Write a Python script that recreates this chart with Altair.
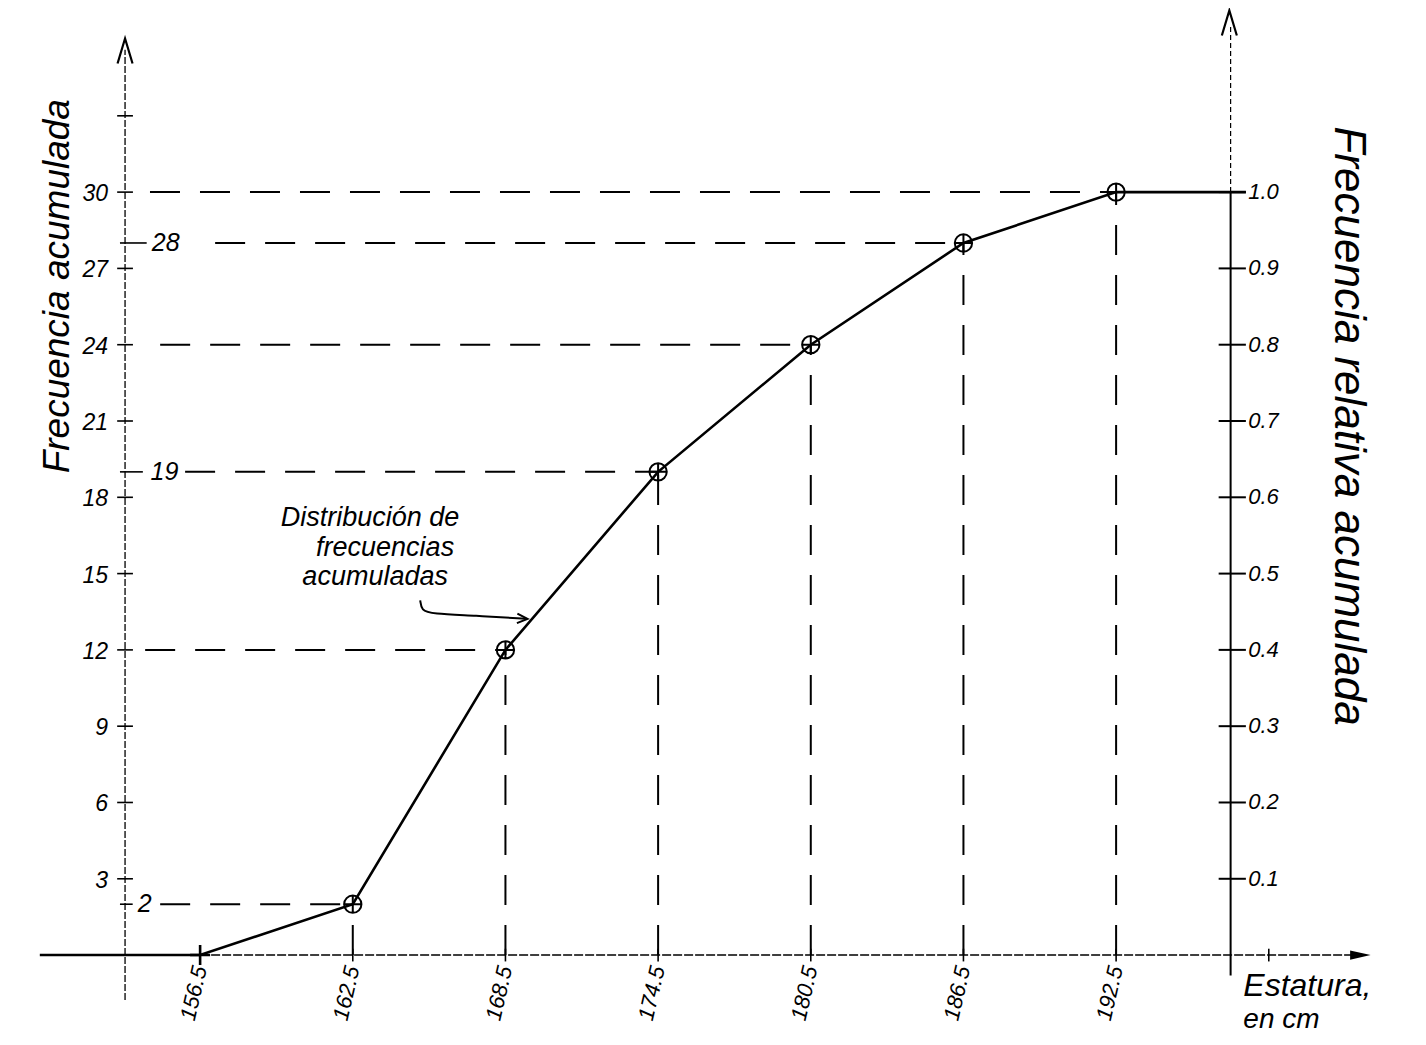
import altair as alt
import pandas as pd

# ---------------- data ----------------
heights = [156.5, 162.5, 168.5, 174.5, 180.5, 186.5, 192.5]
cum_freq = [0, 2, 12, 19, 24, 28, 30]
left_tick_values = [3, 6, 9, 12, 15, 18, 21, 24, 27, 30, 33]
left_tick_labels = ["3", "6", "9", "12", "15", "18", "21", "24", "27", "30", ""]
right_tick_values = [3, 6, 9, 12, 15, 18, 21, 24, 27, 30]
right_tick_labels = ["0.1", "0.2", "0.3", "0.4", "0.5", "0.6", "0.7", "0.8", "0.9", "1.0"]
side_labels = ["2", "19", "28"]
side_values = [2, 19, 28]
x_labels = ["156.5", "162.5", "168.5", "174.5", "180.5", "186.5", "192.5"]
ogive_left, ogive_right = 150.2, 197.6

# ---------------- layout (data units) ----------------
LEFT_AX, RIGHT_AX = 153.55, 197.0
FONT = "Liberation Sans"

X = alt.X("x:Q", scale=alt.Scale(domain=[149.5, 203.5], nice=False, zero=False), axis=None)
Y = alt.Y("y:Q", scale=alt.Scale(domain=[-3.3, 37.2], nice=False, zero=False), axis=None)


def rules(df, **kw):
    return alt.Chart(df).mark_rule(color="black", **kw).encode(
        x=X, x2=alt.X2("x2:Q"), y=Y, y2=alt.Y2("y2:Q"))


def texts(df, **kw):
    base = dict(font=FONT, fontStyle="italic", color="black")
    base.update(kw)
    return alt.Chart(df).mark_text(**base).encode(x=X, y=Y, text="t:N")


def shapes(df, **kw):
    return alt.Chart(df).mark_point(opacity=1, color="black", **kw).encode(x=X, y=Y)


# ogive line
ogive_df = pd.DataFrame({
    "x": [ogive_left] + heights + [ogive_right],
    "y": [0] + cum_freq + [cum_freq[-1]],
    "o": list(range(len(heights) + 2)),
})
ogive = alt.Chart(ogive_df).mark_line(color="black", strokeWidth=2.6).encode(
    x=X, y=Y, order="o:Q")

# dashed guides
h_start = {2: 154.93, 12: 154.34, 19: 155.91, 24: 154.93, 28: 157.09, 30: 154.53}
hg = pd.DataFrame({
    "x": [h_start[v] for v in cum_freq[1:]],
    "x2": heights[1:],
    "y": cum_freq[1:],
    "y2": cum_freq[1:],
})
vg = pd.DataFrame({"x": heights[1:], "x2": heights[1:], "y": [0] * 6, "y2": cum_freq[1:]})
guides_h = rules(hg, strokeWidth=2, strokeDash=[30, 20])
guides_v = rules(vg, strokeWidth=2, strokeDash=[30, 20])

# axes
left_axis = rules(pd.DataFrame({"x": [LEFT_AX], "x2": [LEFT_AX], "y": [-1.77], "y2": [35.6]}),
                  strokeWidth=1.3, strokeDash=[7, 2])
right_axis_solid = rules(pd.DataFrame({"x": [RIGHT_AX], "x2": [RIGHT_AX], "y": [-0.8], "y2": [30]}),
                         strokeWidth=2)
right_axis_dot = rules(pd.DataFrame({"x": [RIGHT_AX], "x2": [RIGHT_AX], "y": [30], "y2": [36.6]}),
                       strokeWidth=1.2, strokeDash=[5, 3])
x_axis = rules(pd.DataFrame({"x": [156.5], "x2": [202.2], "y": [0], "y2": [0]}),
               strokeWidth=1.4, strokeDash=[9, 2])

# ticks
lt = pd.DataFrame({"x": [LEFT_AX - 0.31] * len(left_tick_values),
                   "x2": [LEFT_AX + 0.31] * len(left_tick_values),
                   "y": left_tick_values, "y2": left_tick_values})
st = pd.DataFrame({"x": [LEFT_AX - 0.2] * 3, "x2": [LEFT_AX + 0.3, LEFT_AX + 0.7, LEFT_AX + 0.85],
                   "y": side_values, "y2": side_values})
rt = pd.DataFrame({"x": [RIGHT_AX - 0.47] * len(right_tick_values),
                   "x2": [RIGHT_AX + 0.6] * len(right_tick_values),
                   "y": right_tick_values, "y2": right_tick_values})
xt = pd.DataFrame({"x": heights[1:] + [198.5], "x2": heights[1:] + [198.5],
                   "y": [-0.25] * 7, "y2": [0.25] * 7})
ticks = alt.layer(rules(lt, strokeWidth=1.6), rules(st, strokeWidth=1.6),
                  rules(rt, strokeWidth=2), rules(xt, strokeWidth=1.6))

# arrowheads
up_arrow = "M-0.6,1L0,-1L0.6,1"
arrows_up = shapes(pd.DataFrame({"x": [LEFT_AX, RIGHT_AX - 0.05], "y": [35.55, 36.65]}),
                   shape=up_arrow, size=625, filled=False, strokeWidth=2.2)
arrow_right = shapes(pd.DataFrame({"x": [202.1], "y": [0]}),
                     shape="M-1,-0.45L1,0L-1,0.45Z", size=420, filled=True)

# markers
circ = "M-1,0A1,1,0,1,1,1,0A1,1,0,1,1,-1,0M-1,0L1,0M0,-1L0,1"
markers = shapes(pd.DataFrame({"x": heights[1:], "y": cum_freq[1:]}),
                 shape=circ, size=300, filled=False, strokeWidth=2)
first_mark = shapes(pd.DataFrame({"x": heights[:1], "y": cum_freq[:1]}),
                    shape="M-1,0L1,0M0,-1L0,1", size=400, filled=False, strokeWidth=2.6)

# labels
left_lbl = texts(pd.DataFrame({"x": [152.88] * len(left_tick_values), "y": left_tick_values,
                               "t": left_tick_labels}),
                 align="right", baseline="middle", fontSize=23, dy=2)
side_lbl = texts(pd.DataFrame({"x": [154.05, 154.55, 154.6], "y": side_values, "t": side_labels}),
                 align="left", baseline="middle", fontSize=25)
right_lbl = texts(pd.DataFrame({"x": [197.69] * len(right_tick_values), "y": right_tick_values,
                                "t": right_tick_labels}),
                  align="left", baseline="middle", fontSize=22)
x_lbl = texts(pd.DataFrame({"x": heights, "y": [-0.45] * 7, "t": x_labels}),
              align="right", baseline="middle", fontSize=22, angle=283)

# titles
left_title = texts(pd.DataFrame({"x": [150.9], "y": [26.3], "t": ["Frecuencia acumulada"]}),
                   align="center", baseline="middle", fontSize=37, angle=270)
right_title = texts(pd.DataFrame({"x": [201.6], "y": [20.8], "t": ["Frecuencia relativa acumulada"]}),
                    align="center", baseline="middle", fontSize=44, angle=90)
x_title1 = texts(pd.DataFrame({"x": [197.5], "y": [-1.2], "t": ["Estatura,"]}),
                 align="left", baseline="middle", fontSize=32)
x_title2 = texts(pd.DataFrame({"x": [197.5], "y": [-2.55], "t": ["en cm"]}),
                 align="left", baseline="middle", fontSize=28)

# annotation
ann = texts(pd.DataFrame({"x": [163.18, 163.77, 163.38], "y": [17.18, 16.0, 14.86],
                          "t": ["Distribución de", "frecuencias", "acumuladas"]}),
            align="center", baseline="middle", fontSize=27)
ann_curve = alt.Chart(pd.DataFrame({"x": [165.15, 165.2, 165.6, 167.3, 169.3],
                                    "y": [13.95, 13.55, 13.42, 13.35, 13.22],
                                    "o": [0, 1, 2, 3, 4]})).mark_line(
    color="black", strokeWidth=2, interpolate="basis").encode(x=X, y=Y, order="o:Q")
ann_head = shapes(pd.DataFrame({"x": [169.3], "y": [13.22]}),
                  shape="M-1,-0.55L0.2,0L-1,0.55", size=300, filled=False, strokeWidth=2, angle=3)

chart = alt.layer(
    guides_h, guides_v, left_axis, right_axis_solid, right_axis_dot, x_axis, ticks,
    arrows_up, arrow_right, ogive, markers, first_mark,
    left_lbl, side_lbl, right_lbl, x_lbl, left_title, right_title, x_title1, x_title2,
    ann, ann_curve, ann_head,
).properties(
    width=1374, height=1030,
    background="white",
    autosize=alt.AutoSizeParams(type="none"),
    padding={"left": 14, "top": 1, "right": 0, "bottom": 0},
).configure_view(stroke=None, strokeWidth=0)

chart.save("out.html", embed_options={"renderer": "svg", "actions": False})
